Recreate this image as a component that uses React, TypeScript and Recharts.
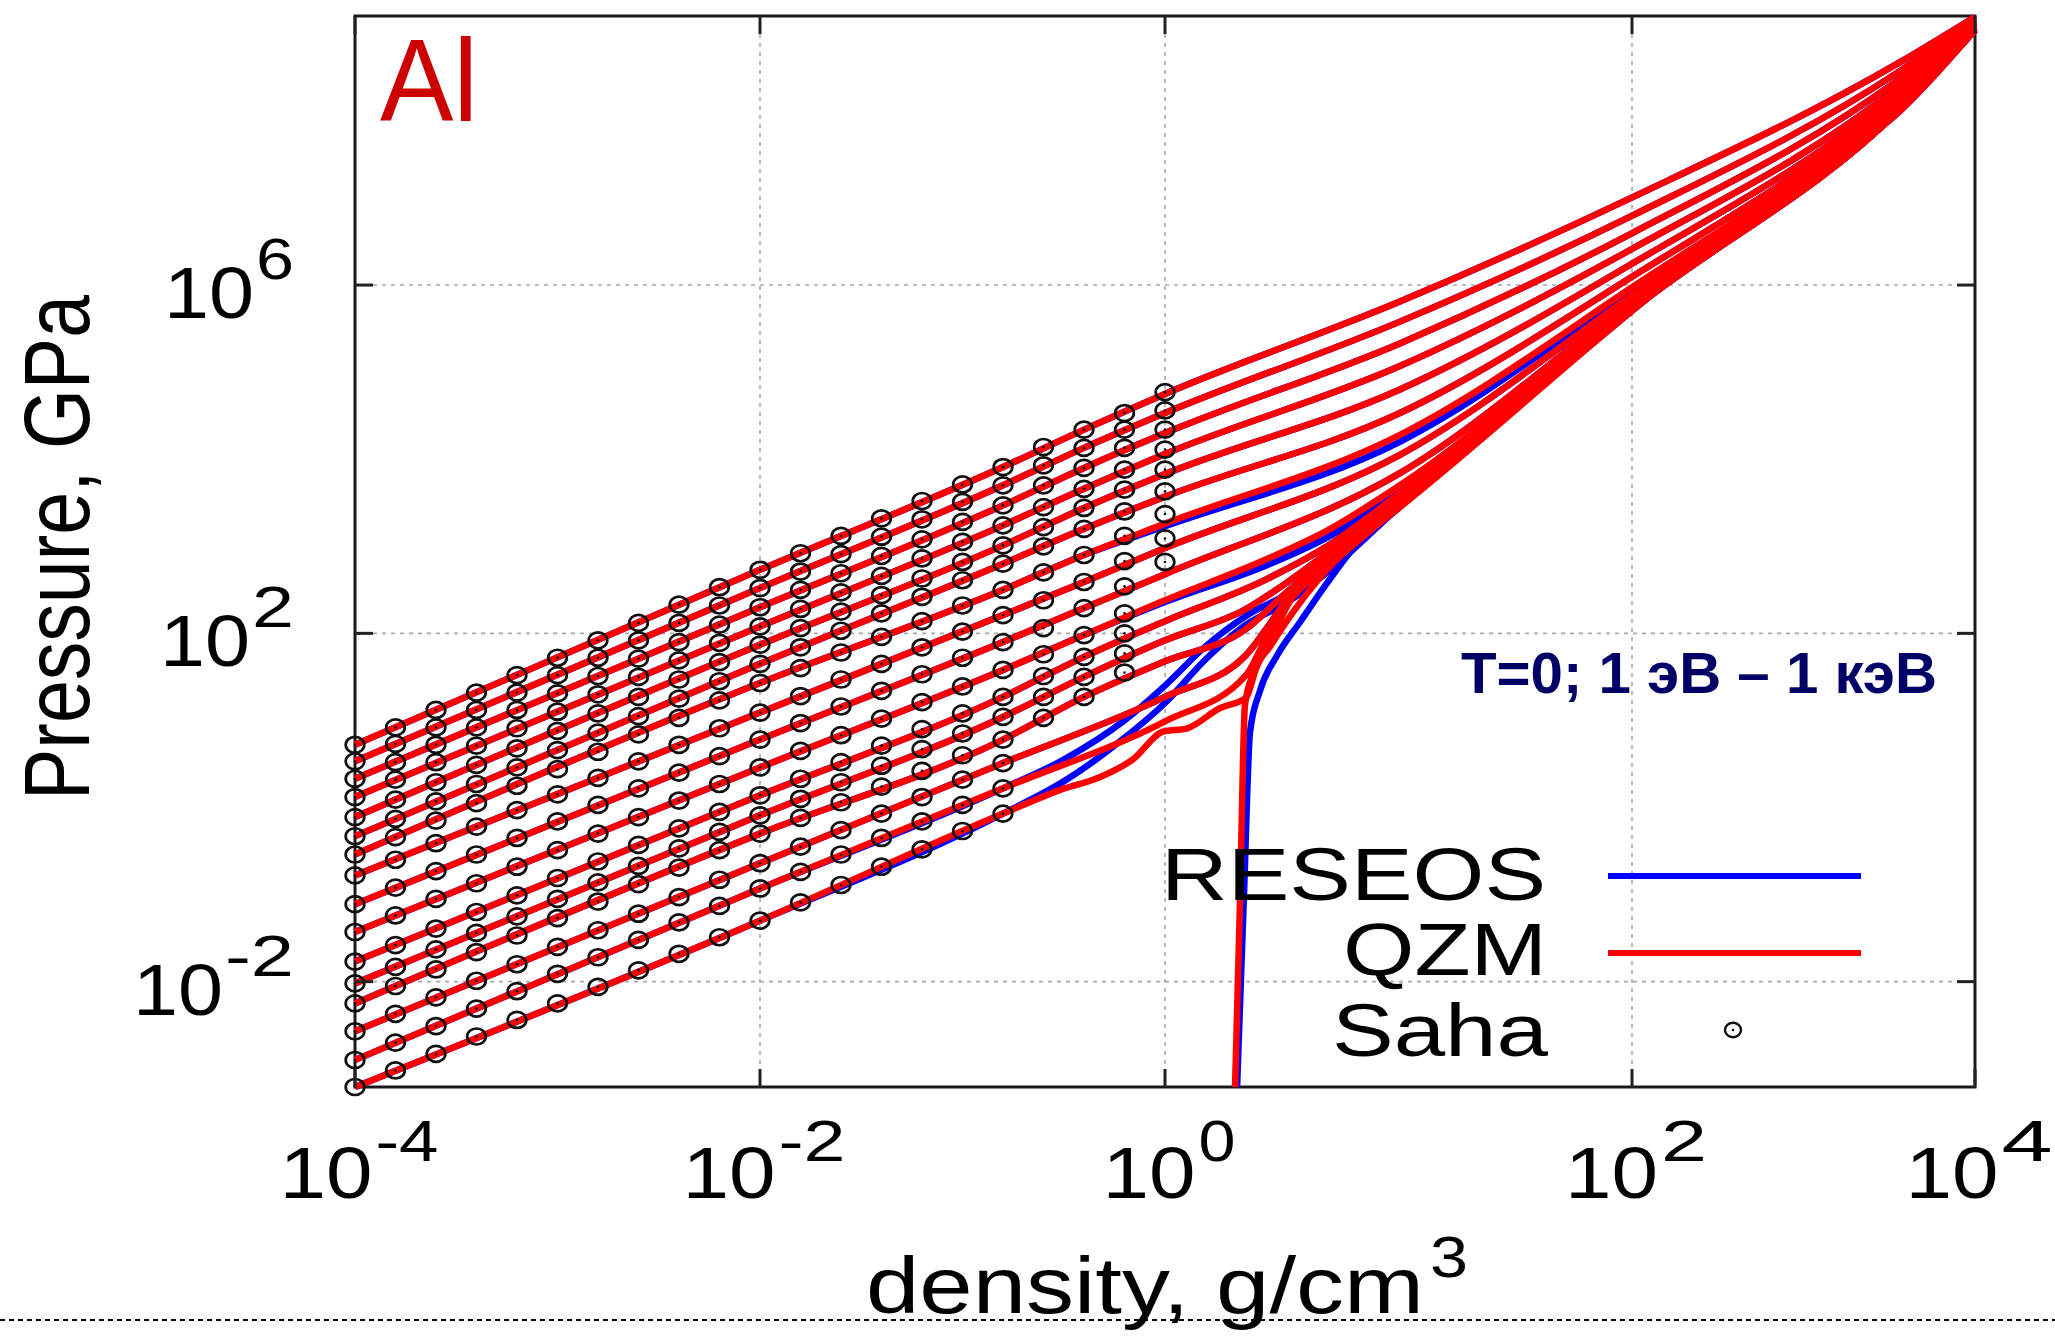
import React from 'react';
import { ComposedChart, Line, Scatter, XAxis, YAxis, CartesianGrid, ReferenceArea, Legend } from 'recharts';

// ---------- axes ----------
const X_TICKS = [1e-4, 1e-2, 1, 202.4, 1e4];
const X_TICK_EXP = ['-4', '-2', '0', '2', '4'];
const X_SUP_W = [63, 67, 37, 46, 51];
const Y_TICKS = [1e-2, 1e2, 1e6];
const Y_TICK_EXP = ['-2', '2', '6'];
const Y_SUP_W = [69, 42, 38];
const X_DOMAIN = [1e-4, 1e4];
const Y_LOG_MIN = -3.21;
const Y_LOG_MAX = 9.09;

// ---------- Saha points: log10(density) columns ----------
const SAHA_LOG_RHO = [-4, -3.8, -3.6, -3.4, -3.2, -3, -2.8, -2.6, -2.4, -2.2, -2, -1.8, -1.6, -1.4, -1.2, -1, -0.8, -0.6, -0.4, -0.2, 0];

// log10(P, GPa) of Saha points per isotherm (T in eV)
const saha1000 = [0.72, 0.92, 1.12, 1.32, 1.52, 1.72, 1.92, 2.12, 2.33, 2.53, 2.73, 2.92, 3.12, 3.32, 3.52, 3.71, 3.91, 4.14, 4.34, 4.53, 4.77];
const saha631 = [0.53, 0.73, 0.92, 1.12, 1.32, 1.52, 1.72, 1.92, 2.12, 2.32, 2.52, 2.71, 2.91, 3.11, 3.31, 3.51, 3.70, 3.93, 4.13, 4.34, 4.56];
const saha398 = [0.33, 0.52, 0.72, 0.92, 1.12, 1.31, 1.51, 1.71, 1.90, 2.10, 2.30, 2.50, 2.69, 2.89, 3.08, 3.28, 3.47, 3.70, 3.90, 4.13, 4.34];
const saha251 = [0.12, 0.32, 0.52, 0.71, 0.91, 1.10, 1.30, 1.50, 1.69, 1.89, 2.08, 2.28, 2.47, 2.66, 2.86, 3.05, 3.24, 3.45, 3.66, 3.88, 4.11];
const saha158 = [-0.11, 0.09, 0.29, 0.49, 0.68, 0.88, 1.08, 1.27, 1.47, 1.67, 1.87, 2.06, 2.25, 2.44, 2.63, 2.82, 3.01, 3.22, 3.44, 3.65, 3.88];
const saha100 = [-0.33, -0.13, 0.07, 0.27, 0.46, 0.66, 0.86, 1.05, 1.25, 1.45, 1.65, 1.84, 2.03, 2.23, 2.42, 2.61, 2.80, 3.00, 3.20, 3.40, 3.63];
const saha63 = [-0.54, -0.34, -0.15, 0.05, 0.25, 0.44, 0.64, 0.84, 1.03, 1.23, 1.43, 1.60, 1.78, 1.96, 2.14, 2.32, 2.50, 2.70, 2.90, 3.12, 3.37];
const saha40 = [-0.78, -0.60, -0.41, -0.22, -0.03, 0.15, 0.34, 0.53, 0.72, 0.91, 1.09, 1.28, 1.47, 1.65, 1.84, 2.02, 2.21, 2.38, 2.59, 2.83, 3.09];
const saha25 = [-1.11, -0.92, -0.73, -0.54, -0.35, -0.16, 0.03, 0.22, 0.40, 0.59, 0.78, 0.97, 1.16, 1.34, 1.53, 1.72, 1.90, 2.06, 2.29, 2.54, 2.82];
const saha16 = [-1.43, -1.24, -1.05, -0.87, -0.68, -0.49, -0.30, -0.11, 0.08, 0.27, 0.46, 0.65, 0.83, 1.02, 1.21, 1.39, 1.58, 1.76, 1.98, 2.23];
const saha10 = [-1.77, -1.58, -1.39, -1.20, -1.01, -0.81, -0.62, -0.43, -0.24, -0.05, 0.14, 0.33, 0.52, 0.71, 0.90, 1.08, 1.27, 1.51, 1.73, 2.00];
const saha6 = [-2.02, -1.83, -1.63, -1.44, -1.25, -1.05, -0.86, -0.67, -0.47, -0.28, -0.09, 0.10, 0.29, 0.48, 0.67, 0.85, 1.04, 1.27, 1.50, 1.77];
const saha4 = [-2.25, -2.05, -1.86, -1.66, -1.47, -1.27, -1.08, -0.88, -0.69, -0.49, -0.30, -0.12, 0.06, 0.24, 0.42, 0.60, 0.78, 1.03, 1.27, 1.55];
const saha2_5 = [-2.57, -2.37, -2.18, -1.99, -1.80, -1.60, -1.41, -1.22, -1.03, -0.83, -0.64, -0.45, -0.26, -0.07, 0.12, 0.32, 0.51];
const saha1_6 = [-2.90, -2.70, -2.51, -2.31, -2.11, -1.91, -1.72, -1.52, -1.32, -1.13, -0.93, -0.74, -0.54, -0.35, -0.16, 0.03, 0.22];
const saha1 = [-3.21, -3.02, -2.83, -2.63, -2.44, -2.25, -2.06, -1.87, -1.68, -1.49, -1.30, -1.09, -0.89, -0.68, -0.48, -0.27, -0.07];

// ---------- QZM isotherms: [log10 rho, log10 P] ----------
const qzm1000 = [[-4, 0.72], [-2, 2.73], [-0.8, 3.91], [-0.4, 4.34], [0, 4.75], [1.16, 5.81], [2.31, 7.01], [3.63, 8.56], [4, 9.08]];
const qzm631 = [[-4, 0.53], [-2, 2.52], [-0.8, 3.70], [-0.4, 4.13], [0, 4.53], [1.16, 5.58], [2.31, 6.80], [3.63, 8.46], [4, 9.06]];
const qzm398 = [[-4, 0.33], [-2, 2.30], [-0.8, 3.47], [-0.4, 3.90], [0, 4.30], [1.16, 5.33], [2.31, 6.60], [3.63, 8.37], [4, 9.04]];
const qzm251 = [[-4, 0.12], [-2, 2.08], [-0.8, 3.24], [-0.4, 3.66], [0, 4.06], [1.16, 5.07], [2.31, 6.42], [3.63, 8.29], [4, 9.02]];
const qzm158 = [[-4, -0.11], [-2, 1.87], [-0.8, 3.01], [-0.4, 3.44], [0, 3.83], [1.16, 4.80], [2.31, 6.25], [3.63, 8.23], [4, 9.0]];
const qzm100 = [[-4, -0.33], [-2, 1.65], [-0.8, 2.80], [-0.4, 3.20], [0, 3.57], [1.16, 4.53], [2.31, 6.10], [3.63, 8.18], [4, 8.98]];
const qzm63 = [[-4, -0.54], [-2, 1.43], [-0.8, 2.50], [-0.4, 2.90], [0, 3.26], [1.16, 4.28], [2.31, 5.98], [3.63, 8.14], [4, 8.97]];
const qzm40 = [[-4, -0.78], [-2, 1.09], [-0.8, 2.21], [-0.4, 2.59], [0, 2.98], [1.16, 4.05], [2.31, 5.89], [3.63, 8.11], [4, 8.96]];
const qzm25 = [[-4, -1.11], [-2, 0.78], [-0.8, 1.90], [-0.4, 2.29], [0, 2.68], [1.16, 3.84], [2.31, 5.83], [3.63, 8.08], [4, 8.95]];
const qzm16 = [[-4, -1.43], [-2, 0.46], [-0.8, 1.58], [-0.4, 1.98], [0, 2.38], [0.5, 2.85], [0.8, 3.18], [1.16, 3.70], [2.31, 5.80], [3.63, 8.06], [4, 8.94]];
const qzm10 = [[-4, -1.77], [-2, 0.14], [-0.8, 1.27], [-0.4, 1.73], [0, 2.14], [0.5, 2.62], [0.8, 3.0], [1.16, 3.61], [2.31, 5.77], [3.63, 8.05], [4, 8.94]];
const qzm6 = [[-4, -2.02], [-2, -0.09], [-0.8, 1.04], [-0.4, 1.50], [0, 1.92], [0.4, 2.28], [0.6, 2.58], [0.8, 2.92], [1.16, 3.56], [2.31, 5.75], [3.63, 8.04], [4, 8.93]];
const qzm4 = [[-4, -2.25], [-2, -0.30], [-0.8, 0.78], [-0.4, 1.27], [0, 1.68], [0.4, 2.05], [0.6, 2.47], [0.8, 2.86], [1.16, 3.52], [2.31, 5.74], [3.63, 8.03], [4, 8.93]];
const qzm2_5 = [[-4, -2.57], [-2, -0.64], [-0.8, 0.51], [0, 1.27], [0.4, 1.75], [0.5, 2.05], [0.6, 2.38], [0.8, 2.80], [1.16, 3.49], [2.31, 5.73], [3.63, 8.02], [4, 8.93]];
const qzm1_6 = [[-4, -2.90], [-2, -0.93], [-0.8, 0.22], [0, 0.99], [0.4, 1.52], [0.5, 1.95], [0.6, 2.33], [0.8, 2.77], [1.16, 3.47], [2.31, 5.72], [3.63, 8.02], [4, 8.93]];
const qzm1 = [[-4, -3.21], [-2, -1.30], [-0.8, -0.07], [-0.52, 0.20], [-0.32, 0.35], [-0.16, 0.55], [-0.01, 0.87], [0.11, 0.91], [0.27, 1.14], [0.40, 1.26], [0.45, 1.60], [0.52, 1.90], [0.6, 2.30], [0.8, 2.75], [1.16, 3.46], [2.31, 5.72], [3.63, 8.02], [4, 8.93]];
const qzm0 = [[0.346, -3.21], [0.370, -1.11], [0.395, 1.18], [0.436, 1.54], [0.519, 1.85], [0.634, 2.25], [0.765, 2.64], [0.914, 3.0], [1.16, 3.45], [2.31, 5.71], [3.0, 7.0], [3.63, 8.0], [4, 8.93]];

// ---------- RESEOS isotherms ----------
const res63 = [[-4, -0.54], [-2, 1.43], [-0.8, 2.50], [-0.4, 2.90], [0, 3.23], [1.16, 4.20], [2.31, 5.95], [3.63, 8.13], [4, 8.97]];
const res16 = [[-4, -1.43], [-2, 0.46], [-0.8, 1.58], [-0.4, 1.98], [0, 2.36], [0.5, 2.78], [0.8, 3.10], [1.16, 3.63], [2.31, 5.79], [3.63, 8.06], [4, 8.94]];
const res1_6 = [[-4, -2.90], [-2, -0.93], [-0.8, 0.22], [-0.5, 0.55], [-0.2, 1.00], [0, 1.40], [0.2, 1.85], [0.4, 2.20], [0.6, 2.45], [0.8, 2.78], [1.16, 3.47], [2.31, 5.72], [3.63, 8.02], [4, 8.93]];
const res1 = [[-4, -3.21], [-2, -1.30], [-0.8, -0.07], [-0.5, 0.30], [-0.2, 0.80], [0, 1.20], [0.2, 1.70], [0.4, 2.10], [0.6, 2.35], [0.8, 2.70], [1.16, 3.46], [2.31, 5.72], [3.63, 8.02], [4, 8.93]];
const res0 = [[0.356, -3.21], [0.39, -1.0], [0.42, 0.87], [0.469, 1.34], [0.552, 1.74], [0.667, 2.13], [0.798, 2.57], [0.93, 2.98], [1.16, 3.45], [2.31, 5.71], [3.0, 7.0], [3.63, 8.0], [4, 8.93]];

const SAHA_SERIES = [saha1000, saha631, saha398, saha251, saha158, saha100, saha63, saha40, saha25, saha16, saha10, saha6, saha4, saha2_5, saha1_6, saha1];
const QZM_SERIES = [qzm1000, qzm631, qzm398, qzm251, qzm158, qzm100, qzm63, qzm40, qzm25, qzm16, qzm10, qzm6, qzm4, qzm2_5, qzm1_6, qzm1, qzm0];
const RESEOS_SERIES = [qzm1000, qzm631, qzm398, qzm251, qzm158, qzm100, res63, qzm40, qzm25, res16, qzm10, qzm6, qzm4, qzm2_5, res1_6, res1, res0];

// ---------- layout ----------
const W = 2055;
const H = 1336;
const PLOT_LEFT = 355;
const PLOT_RIGHT = 1975;
const PLOT_TOP = 16;
const PLOT_BOTTOM = 1087;
const TICK_LEN = 18;
const FONT = '"Liberation Sans", Arial, Helvetica, sans-serif';
const RED = '#ff0000';
const BLUE = '#0000ff';

const p10 = (v: number) => Math.pow(10, v);
const toPts = (arr: number[][]) => arr.map(([lx, ly]) => ({ x: p10(lx), y: p10(ly) }));

const sahaPoints: { x: number; y: number }[] = [];
SAHA_SERIES.forEach((s) => s.forEach((ly, k) => sahaPoints.push({ x: p10(SAHA_LOG_RHO[k]), y: p10(ly) })));

const XTick = (props: any) => {
  const { x, payload } = props;
  const i = X_TICKS.indexOf(payload.value);
  if (i < 0) return null;
  const supW = X_SUP_W[i];
  const total = 93 + 3 + supW;
  const left = x + 4 - total / 2;
  return (
    <g>
      <line x1={x} x2={x} y1={PLOT_BOTTOM} y2={PLOT_BOTTOM - TICK_LEN} stroke="#222" strokeWidth={3} />
      <line x1={x} x2={x} y1={PLOT_TOP} y2={PLOT_TOP + TICK_LEN} stroke="#222" strokeWidth={3} />
      <text x={left} y={1198} fontSize={72} fontFamily={FONT} fill="#000" textLength={93} lengthAdjust="spacingAndGlyphs">10</text>
      <text x={left + 96} y={1161} fontSize={58} fontFamily={FONT} fill="#000" textLength={supW} lengthAdjust="spacingAndGlyphs">{X_TICK_EXP[i]}</text>
    </g>
  );
};

const YTick = (props: any) => {
  const { y, payload } = props;
  const i = Y_TICKS.indexOf(payload.value);
  if (i < 0) return null;
  const supW = Y_SUP_W[i];
  const supLeft = 294 - supW;
  return (
    <g>
      <line x1={PLOT_LEFT} x2={PLOT_LEFT + TICK_LEN} y1={y} y2={y} stroke="#222" strokeWidth={3} />
      <line x1={PLOT_RIGHT} x2={PLOT_RIGHT - TICK_LEN} y1={y} y2={y} stroke="#222" strokeWidth={3} />
      <text x={supLeft - 2 - 90} y={y + 33} fontSize={72} fontFamily={FONT} fill="#000" textLength={90} lengthAdjust="spacingAndGlyphs">10</text>
      <text x={supLeft} y={y - 6} fontSize={58} fontFamily={FONT} fill="#000" textLength={supW} lengthAdjust="spacingAndGlyphs">{Y_TICK_EXP[i]}</text>
    </g>
  );
};

const SahaShape = (props: any) => {
  const { cx, cy } = props;
  if (cx == null || cy == null) return null;
  return (
    <g>
      <ellipse cx={cx} cy={cy} rx={9.3} ry={8} fill="none" stroke="#111" strokeWidth={2.7} />
      <circle cx={cx} cy={cy} r={1.3} fill="#111" />
    </g>
  );
};

const LegendContent = () => (
  <svg width={W} height={H} style={{ position: 'absolute', left: 0, top: 0, overflow: 'visible' }}>
    <text x={1546} y={900} textAnchor="end" fontSize={74} fontFamily={FONT} fill="#000" textLength={385} lengthAdjust="spacingAndGlyphs">RESEOS</text>
    <line x1={1608} x2={1861} y1={876} y2={876} stroke={BLUE} strokeWidth={6} />
    <text x={1547} y={975} textAnchor="end" fontSize={74} fontFamily={FONT} fill="#000" textLength={204} lengthAdjust="spacingAndGlyphs">QZM</text>
    <line x1={1608} x2={1861} y1={953} y2={953} stroke={RED} strokeWidth={6} />
    <text x={1548} y={1056} textAnchor="end" fontSize={74} fontFamily={FONT} fill="#000" textLength={216} lengthAdjust="spacingAndGlyphs">Saha</text>
    <ellipse cx={1733} cy={1030} rx={8} ry={7.2} fill="none" stroke="#111" strokeWidth={2.4} />
    <circle cx={1733} cy={1030} r={1.3} fill="#111" />
  </svg>
);

export default function App() {
  return (
    <div style={{ position: 'absolute', left: 0, top: 0, width: W, height: H, background: '#fff' }}>
      <ComposedChart width={W} height={H} margin={{ top: PLOT_TOP, right: W - PLOT_RIGHT, bottom: H - PLOT_BOTTOM - 150, left: PLOT_LEFT - 200 }}>
        <CartesianGrid stroke="#a8a8a8" strokeWidth={1.6} strokeDasharray="4 5" />
        <XAxis type="number" dataKey="x" scale="log" domain={X_DOMAIN} ticks={X_TICKS} interval={0} height={150} tick={<XTick />} tickLine={false} axisLine={false} />
        <YAxis type="number" dataKey="y" scale="log" domain={[p10(Y_LOG_MIN), p10(Y_LOG_MAX)]} ticks={Y_TICKS} interval={0} width={200} tick={<YTick />} tickLine={false} axisLine={false} />
        {RESEOS_SERIES.map((s, i) => (
          <Line key={'b' + i} data={toPts(s)} dataKey="y" type="monotoneX" stroke={BLUE} strokeWidth={6.5} dot={false} activeDot={false} isAnimationActive={false} legendType="none" />
        ))}
        {QZM_SERIES.map((s, i) => (
          <Line key={'r' + i} data={toPts(s)} dataKey="y" type="monotoneX" stroke={RED} strokeWidth={6.5} dot={false} activeDot={false} isAnimationActive={false} legendType="none" />
        ))}
        <Scatter data={sahaPoints} dataKey="y" shape={SahaShape} isAnimationActive={false} legendType="none" />
        <ReferenceArea x1={X_DOMAIN[0]} x2={X_DOMAIN[1]} y1={p10(Y_LOG_MIN)} y2={p10(Y_LOG_MAX)} fill="none" fillOpacity={0} stroke="#1a1a1a" strokeWidth={3} />
        <Legend layout="vertical" align="center" verticalAlign="middle" content={<LegendContent />} wrapperStyle={{ position: 'absolute', left: 0, top: 0, width: W, height: H, pointerEvents: 'none' }} />
      </ComposedChart>
      <svg width={W} height={H} style={{ position: 'absolute', left: 0, top: 0, pointerEvents: 'none' }}>
        <text x={380} y={121} fontSize={117} fontFamily={FONT} fill="#cc0000" textLength={98} lengthAdjust="spacingAndGlyphs">Al</text>
        <text x={1461} y={693} fontSize={58} fontWeight="bold" fontFamily={FONT} fill="#000066" textLength={476} lengthAdjust="spacingAndGlyphs">T=0; 1 эВ – 1 кэВ</text>
        <text transform="translate(89,547.5) rotate(-90)" textAnchor="middle" fontSize={92} fontFamily={FONT} fill="#000" textLength={505} lengthAdjust="spacingAndGlyphs">Pressure, GPa</text>
        <text x={866} y={1313} fontSize={80} fontFamily={FONT} fill="#000" textLength={558} lengthAdjust="spacingAndGlyphs">density, g/cm</text>
        <text x={1430} y={1277} fontSize={58} fontFamily={FONT} fill="#000" textLength={38} lengthAdjust="spacingAndGlyphs">3</text>
        <line x1={0} x2={W} y1={1320} y2={1320} stroke="#000" strokeWidth={2} strokeDasharray="5 4" />
      </svg>
    </div>
  );
}
